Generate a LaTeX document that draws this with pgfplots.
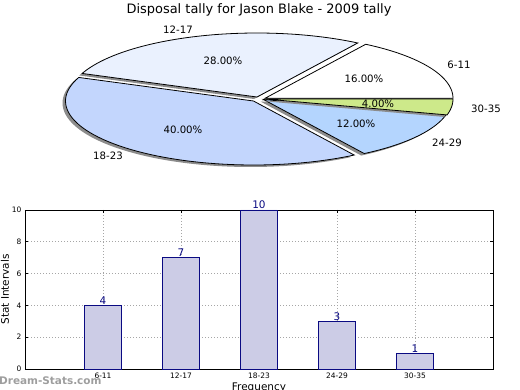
\documentclass[border=0pt]{standalone}
\usepackage{pgfplots}
\pgfplotsset{compat=1.18}
\usepackage{fontspec}
\setmainfont{DejaVu Sans}
\definecolor{cA}{RGB}{255,255,255}
\definecolor{cB}{RGB}{234,241,254}
\definecolor{cC}{RGB}{195,214,253}
\definecolor{cD}{RGB}{180,213,254}
\definecolor{cE}{RGB}{205,233,138}
\definecolor{shadowc}{RGB}{140,140,140}
\definecolor{barfill}{RGB}{204,204,230}
\definecolor{navyc}{RGB}{10,10,130}
% data: disposal counts per interval
\def\vA{4}\def\vB{7}\def\vC{10}\def\vD{3}\def\vE{1}
\pgfmathsetmacro\tot{\vA+\vB+\vC+\vD+\vE}
\pgfmathsetmacro\aA{360*\vA/\tot}
\pgfmathsetmacro\aB{\aA+360*\vB/\tot}
\pgfmathsetmacro\aC{\aB+360*\vC/\tot}
\pgfmathsetmacro\aD{\aC+360*\vD/\tot}
% #1,#2 centre; #3,#4 shadow centre; #5,#6 angles; #7 colour
\newcommand{\pieslice}[7]{%
 \addplot[fill=shadowc, draw=none, domain=#5:#6, samples=60] ({#3+188*cos(x)},{#4-64*sin(x)}) -- (axis cs:#3,#4) -- cycle;
 \addplot[fill=#7, draw=black, line width=0.8bp, domain=#5:#6, samples=60] ({#1+188*cos(x)},{#2-64*sin(x)}) -- (axis cs:#1,#2) -- cycle;
}
\begin{document}
\begin{tikzpicture}[x=1bp,y=1bp]
\begin{axis}[at={(0,0)}, anchor=south west, width=520bp, height=390bp, scale only axis,
  xmin=0, xmax=520, ymin=0, ymax=390, y dir=reverse, hide axis, clip=false]
 \pieslice{265}{98.3}{262}{100.3}{0}{\aA}{cA}
 \pieslice{257}{97}{254}{99}{\aA}{\aB}{cB}
 \pieslice{253.5}{101}{250.5}{103}{\aB}{\aC}{cC}
 \pieslice{263.5}{99.5}{260.5}{101.5}{\aC}{\aD}{cD}
 \pieslice{265}{99}{262}{101}{\aD}{360}{cE}
 \node[font=\fontsize{13}{15}\selectfont] at (axis cs:259,10) {Disposal tally for Jason Blake - 2009 tally};
 \begin{scope}[every node/.style={font=\fontsize{10.2}{12}\selectfont, inner sep=0pt}]
 \node at (axis cs:178,30) {12-17};
 \node at (axis cs:223,61) {28.00\%};
 \node at (axis cs:459,65) {6-11};
 \node at (axis cs:364,79) {16.00\%};
 \node at (axis cs:378,104) {4.00\%};
 \node at (axis cs:486,109) {30-35};
 \node at (axis cs:356,124) {12.00\%};
 \node at (axis cs:447,143) {24-29};
 \node at (axis cs:183,130) {40.00\%};
 \node at (axis cs:108,156) {18-23};
 \end{scope}
 \node[anchor=west, inner sep=0pt, text=black!38, font=\bfseries\fontsize{10.5}{12}\selectfont] at (axis cs:-1,381) {Dream-Stats.com};
\end{axis}
\begin{axis}[at={(25bp,21bp)}, anchor=south west, width=468bp, height=159bp, scale only axis,
  xmin=0, xmax=6, ymin=0, ymax=10,
  xtick={1,2,3,4,5}, xticklabels={6-11,12-17,18-23,24-29,30-35},
  ytick={0,2,4,6,8,10},
  /pgf/number format/assume math mode=true,
  tick label style={font=\fontsize{7.5}{9}\selectfont},
  tick align=inside, major tick length=3bp, tick style={black, line width=0.6bp},
  xtick pos=both, ytick pos=both,
  grid=major, grid style={dash pattern=on 1bp off 2bp, color=black!35, line width=0.8bp},
  axis line style={line width=0.8bp},
  xlabel={Frequency}, ylabel={Stat Intervals},
  every axis x label/.style={at={(axis description cs:0.5,-0.12)}, anchor=center, font=\fontsize{10.5}{12}\selectfont},
  every axis y label/.style={at={(axis description cs:-0.043,0.5)}, rotate=90, anchor=center, font=\fontsize{10.5}{12}\selectfont},
  clip=false]
 \addplot[ybar, bar width=0.47, fill=barfill, draw=navyc, line width=0.8bp,
   nodes near coords, nodes near coords style={font=\fontsize{10.5}{12}\selectfont, text=navyc, anchor=south, inner sep=0.5bp},
   point meta=explicit symbolic]
   coordinates {(1,4)[4] (2,7)[7] (3,10)[10] (4,3)[3] (5,1)[1]};
\end{axis}
\pgfresetboundingbox
\path[use as bounding box] (0,0) rectangle (520bp,390bp);
\end{tikzpicture}
\end{document}
